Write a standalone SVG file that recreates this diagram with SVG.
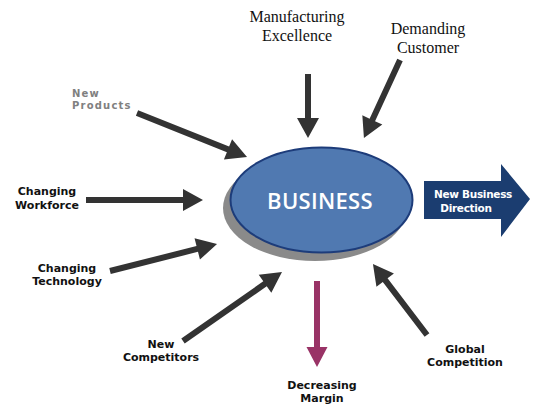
<svg xmlns="http://www.w3.org/2000/svg" width="550" height="412" viewBox="0 0 550 412">
<style>
.lbl{font-family:"DejaVu Sans",Verdana,sans-serif;font-weight:bold;font-size:11px;fill:#111;text-anchor:middle}
.gray{fill:#808080;font-size:10px;letter-spacing:1.2px;text-anchor:start}
.dir{font-size:10.5px;letter-spacing:-0.3px}
.serif{font-family:"Liberation Serif","Times New Roman",serif;font-size:16px;fill:#111;text-anchor:middle}
.arr{fill:#333333}
.white{fill:#ffffff}
</style>
<rect width="550" height="412" fill="#ffffff"/>
<g id="connectors">
<path class="arr" transform="translate(308,74) rotate(90)" d="M0,-3 L44,-3 L44,-11 L64,0 L44,11 L44,3 L0,3 Z"/>
<path class="arr" transform="translate(400,60) rotate(114.8)" d="M0,-3 L66,-3 L66,-11 L86,0 L66,11 L66,3 L0,3 Z"/>
<path class="arr" transform="translate(137,113) rotate(21.8)" d="M0,-3 L98,-3 L98,-11 L118.5,0 L98,11 L98,3 L0,3 Z"/>
<path class="arr" transform="translate(86,200)" d="M0,-3 L97,-3 L97,-11 L117,0 L97,11 L97,3 L0,3 Z"/>
<path class="arr" transform="translate(110,271) rotate(-14.2)" d="M0,-3 L90,-3 L90,-11 L110.4,0 L90,11 L90,3 L0,3 Z"/>
<path class="arr" transform="translate(183,341) rotate(-34.9)" d="M0,-3 L100,-3 L100,-11 L120.7,0 L100,11 L100,3 L0,3 Z"/>
<path class="arr" transform="translate(427,335) rotate(-127.3)" d="M0,-3 L69,-3 L69,-11 L89.2,0 L69,11 L69,3 L0,3 Z"/>
<path fill="#993366" transform="translate(317,281) rotate(90)" d="M0,-3 L66,-3 L66,-10.5 L86,0 L66,10.5 L66,3 L0,3 Z"/>
<path id="direction-arrow" fill="#1b3d70" d="M424,181 L501,181 L501,164 L530,199 L501,237 L501,219 L424,219 Z"/>
</g>
<g id="business">
<ellipse cx="315" cy="208" rx="92" ry="53" fill="#8a8a8a"/>
<ellipse cx="321.5" cy="200" rx="91" ry="52.5" fill="#5079b1" stroke="#1d3c7a" stroke-width="2"/>
<text x="320" y="209" font-family="'Open Sans','Liberation Sans',sans-serif" font-weight="600" font-size="22" fill="#ffffff" text-anchor="middle" letter-spacing="0.3">BUSINESS</text>
</g>
<g id="new-business-direction">
<text class="lbl dir white" x="473" y="198">New Business</text>
<text class="lbl dir white" x="466" y="212">Direction</text>
</g>
<g id="manufacturing-excellence">
<text class="serif" x="297" y="22">Manufacturing</text>
<text class="serif" x="297" y="41">Excellence</text>
</g>
<g id="demanding-customer">
<text class="serif" x="428" y="34">Demanding</text>
<text class="serif" x="428" y="53">Customer</text>
</g>
<g id="new-products">
<text class="lbl gray" x="72" y="97">New</text>
<text class="lbl gray" x="72" y="109">Products</text>
</g>
<g id="changing-workforce">
<text class="lbl" x="47" y="195">Changing</text>
<text class="lbl" x="47" y="209">Workforce</text>
</g>
<g id="changing-technology">
<text class="lbl" x="67" y="272">Changing</text>
<text class="lbl" x="67" y="285">Technology</text>
</g>
<g id="new-competitors">
<text class="lbl" x="161" y="348">New</text>
<text class="lbl" x="161" y="361">Competitors</text>
</g>
<g id="decreasing-margin">
<text class="lbl" x="322" y="389">Decreasing</text>
<text class="lbl" x="322" y="402">Margin</text>
</g>
<g id="global-competition">
<text class="lbl" x="465" y="353">Global</text>
<text class="lbl" x="465" y="366">Competition</text>
</g>
</svg>
